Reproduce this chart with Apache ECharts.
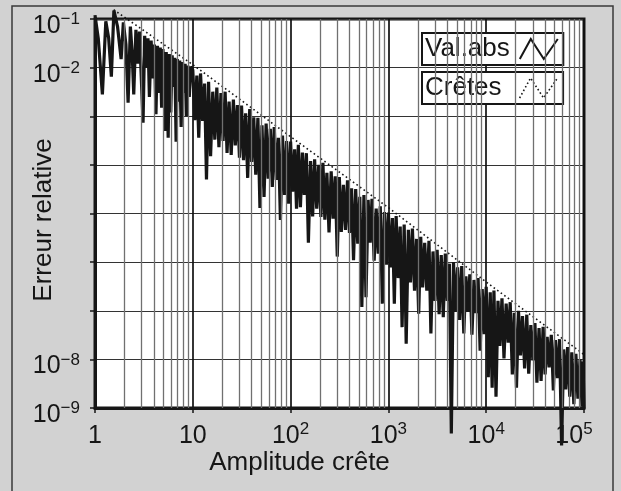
<!DOCTYPE html>
<html><head><meta charset="utf-8">
<script src="https://cdn.jsdelivr.net/npm/echarts@6/dist/echarts.min.js"></script>
<style>html,body{margin:0;padding:0;background:#d2d2d2;}#c{width:621px;height:491px;}</style>
</head><body><div id="c"></div>
<script>
// ---- axis ticks ----
const xDecades = [1, 10, 100, 1000, 10000, 100000];
const xTickLabels = ['1', '10', '10^2', '10^3', '10^4', '10^5'];
const yDecades = [1e-9, 1e-8, 1e-7, 1e-6, 1e-5, 1e-4, 1e-3, 1e-2, 1e-1];
const yTickLabels = ['10^-9', '10^-8', '', '', '', '', '', '10^-2', '10^-1'];
const xMinorLines = [2,3,4,5,6,7,8,9,20,30,40,50,60,70,80,90,200,300,400,500,600,700,800,900,
  2000,3000,4000,5000,6000,7000,8000,9000,20000,30000,40000,50000,60000,70000,80000,90000];

// ---- series "Val.abs" (by decade) ----
const valAbs1 = [[1.00,0.12],[1.08,0.04],[1.19,2.8e-3],[1.29,0.09],[1.38,0.04],[1.47,6.5e-3],[1.56,0.15],[1.70,0.07],[1.85,0.015],[1.95,0.085],[2.07,0.03],[2.18,1.9e-3],[2.30,0.07],[2.40,0.02],[2.49,2.8e-3],[2.62,0.06],[2.75,0.012],[2.85,0.055],[3.00,4e-3],[3.10,7.4e-4],[3.22,0.045],[3.35,0.01],[3.48,0.04],[3.60,2.5e-3],[3.75,0.036],[3.90,6e-3],[4.05,0.03],[4.20,1.1e-3],[4.35,0.028],[4.50,3e-3],[4.65,0.026],[4.80,1.5e-3],[4.95,0.024],[5.10,8e-3],[5.20,5e-4],[5.35,0.021],[5.50,2e-3],[5.60,3.6e-4],[5.75,0.019],[5.95,1.2e-3],[6.15,0.018],[6.35,4e-3],[6.55,0.016],[6.75,3e-4],[6.95,0.015],[7.15,2e-3],[7.35,0.014],[7.60,6e-4],[7.85,0.013],[8.10,3e-3],[8.35,0.012],[8.60,1e-3],[8.90,0.011],[9.20,2.5e-3],[9.55,0.0105]];
const valAbs10 = [[10,8.9e-3],[10.5,8.3e-4],[11,6.9e-3],[11.5,3.6e-4],[12,7.6e-3],[12.6,8e-4],[13.2,4.7e-3],[13.8,5e-5],[14.5,5.1e-3],[15.2,1.5e-4],[16,3.2e-3],[16.8,3.3e-4],[17.6,3.9e-3],[18.5,2.3e-4],[19.4,3.0e-3],[20.4,3.1e-4],[21.4,3.2e-3],[22.4,1.75e-4],[23.5,2.0e-3],[24.7,1.6e-4],[26,2.2e-3],[27.2,2.5e-4],[28.6,1.7e-3],[30,1.4e-4],[31.5,1.66e-3],[33,1.25e-4],[34.7,1.15e-3],[36.4,5.4e-5],[38.2,1.4e-3],[40,1.15e-4],[42,9.5e-4],[44,6.3e-5],[46.3,9.3e-4],[48.6,1.3e-5],[51,6.5e-4],[53.5,2.2e-5],[56.2,7.1e-4],[59,5.2e-5],[62,5.5e-4],[65,3.5e-5],[68,6.0e-4],[71.5,4.9e-5],[75,3.6e-4],[78.7,7.4e-6],[82.6,4.0e-4],[86.7,2.4e-5],[91,3.1e-4],[95.5,1.6e-5]];
const valAbs100 = [[100,3.0e-4],[105,2.8e-5],[110,2.1e-4],[115,1.25e-5],[120,2.6e-4],[126,1.35e-5],[132,1.8e-4],[138,2.4e-5],[145,1.74e-4],[152,2.5e-6],[160,1.2e-4],[168,8.7e-6],[176,1.3e-4],[185,1.25e-5],[194,1.0e-4],[204,8.5e-6],[214,1.1e-4],[224,7.5e-6],[235,6.9e-5],[247,4.1e-6],[260,7.4e-5],[272,7.8e-6],[286,5.8e-5],[300,1.3e-6],[315,5.6e-5],[330,4.2e-6],[347,3.9e-5],[364,4.6e-6],[382,4.8e-5],[400,4.0e-6],[420,3.3e-5],[440,1.1e-6],[463,3.2e-5],[486,2.4e-6],[510,2.2e-5],[535,1.2e-7],[562,2.4e-5],[590,1.9e-7],[620,1.9e-5],[650,2.5e-6],[680,2.0e-5],[715,1.07e-6],[750,1.26e-5],[787,1.5e-6],[826,1.4e-5],[867,1.4e-7],[910,1.07e-5],[955,8.9e-7]];
const valAbs1000 = [[1000,1.05e-5],[1050,7.8e-7],[1100,8.1e-6],[1150,1.4e-7],[1200,8.9e-6],[1260,4.7e-7],[1320,5.4e-6],[1380,4.6e-8],[1450,5.9e-6],[1520,2.1e-8],[1600,4.6e-6],[1680,3.8e-7],[1760,4.9e-6],[1850,2.6e-7],[1940,3.0e-6],[2040,8.7e-8],[2140,3.3e-6],[2240,3.0e-7],[2350,2.5e-6],[2470,2.6e-7],[2600,2.75e-6],[2720,3.4e-8],[2860,1.66e-6],[3000,1.6e-7],[3150,1.8e-6],[3300,8.5e-8],[3470,1.4e-6],[3640,7.4e-8],[3820,1.5e-6],[4000,1.6e-7],[4200,9.3e-7],[4400,3.0e-10],[4630,1.0e-6],[4860,9.5e-8],[5100,7.8e-7],[5350,6.5e-8],[5620,8.3e-7],[5900,3.4e-8],[6200,5.1e-7],[6500,9.5e-8],[6800,5.6e-7],[7150,3.2e-8],[7500,4.3e-7],[7870,8.9e-8],[8260,4.7e-7],[8670,1.5e-8],[9100,2.8e-7],[9550,3.3e-8]];
const valAbs10000 = [[10000,3.1e-7],[10500,4.3e-9],[11000,2.4e-7],[11500,2.6e-9],[12000,2.6e-7],[12600,1.7e-9],[13200,1.6e-7],[13800,1.9e-8],[14500,1.8e-7],[15200,1.05e-8],[16000,1.4e-7],[16800,2.2e-8],[17600,1.5e-7],[18500,4.9e-9],[19400,9.1e-8],[20400,2.6e-9],[21400,1.0e-7],[22400,1.2e-8],[23500,7.8e-8],[24700,6.5e-9],[26000,8.3e-8],[27200,5.1e-9],[28600,5.1e-8],[30000,9.5e-9],[31500,5.6e-8],[33000,3.3e-9],[34700,4.4e-8],[36400,3.6e-9],[38200,4.7e-8],[40000,4.9e-9],[42000,2.9e-8],[44000,6.8e-9],[46300,3.2e-8],[48600,2.3e-9],[51000,2.5e-8],[53500,4.1e-9],[56200,2.6e-8],[59000,1.7e-10],[62000,1.6e-8],[65000,2.4e-9],[68000,1.8e-8],[71500,1.7e-9],[75000,1.4e-8],[78700,1.2e-9],[82600,1.3e-8],[86700,1.55e-9],[91000,1.0e-8],[95500,1.07e-9],[97700,9.0e-9],[100000,1.0e-9]];

// ---- series "Crêtes" (peak envelope) ----
const cretes = [[1.55,0.155],[3,0.062],[10,0.0115],[100,3.8e-4],[1000,1.32e-5],[10000,3.9e-7],[100000,1.26e-8]];

const valAbs = [].concat(valAbs1, valAbs10, valAbs100, valAbs1000, valAbs10000);

const FONT = '"Liberation Sans", Arial, Helvetica, sans-serif';
const INK = '#161616';
function sup(label) {
  const p = label.split('^');
  return p.length > 1 ? '{b|' + p[0] + '}{s|' + p[1].replace('-', '\u2212') + '}' : '{b|' + p[0] + '}';
}
function tickText(value, decades, labels) {
  const e = Math.round(Math.log10(value));
  const i = decades.findIndex(d => Math.round(Math.log10(d)) === e);
  if (i < 0 || !labels[i]) return '';
  // last x label is kept inside the frame (as in the original)
  return sup(labels[i]) + (decades === xDecades && i === decades.length - 1 ? '{e|}' : '');
}
const rich = {
  b: { fontSize: 25, fontFamily: FONT, color: INK, lineHeight: 30 },
  s: { fontSize: 17, fontFamily: FONT, color: INK, lineHeight: 30, verticalAlign: 'top', padding: [0, 0, 12, 0] },
  e: { width: 20, fontSize: 17, lineHeight: 30 }
};
function legendText(padRight) {
  return { fontSize: 26, fontFamily: FONT, color: INK, padding: [0, padRight, 0, 0] };
}

const chart = echarts.init(document.getElementById('c'), null, { renderer: 'canvas' });
chart.setOption({
  animation: false,
  backgroundColor: '#d2d2d2',
  grid: { left: 95, top: 19, width: 489, height: 389, show: true, backgroundColor: '#ffffff',
          borderColor: INK, borderWidth: 3, containLabel: false, outerBoundsMode: 'none' },
  xAxis: {
    type: 'log', logBase: 10, min: 1, max: 100000, splitNumber: 5,
    name: 'Amplitude crête', nameLocation: 'middle', nameGap: 42, nameMoveOverlap: false,
    nameTextStyle: { fontSize: 26, fontFamily: FONT, color: INK, padding: [0, 80, 0, 0] },
    axisLine: { show: true, onZero: false, lineStyle: { color: INK, width: 3 } },
    axisTick: { show: true, length: 5, inside: false, lineStyle: { color: INK, width: 1.5 } },
    axisLabel: { margin: 13, formatter: v => tickText(v, xDecades, xTickLabels), rich: rich },
    splitLine: { show: true, lineStyle: { color: '#111', width: 1.7 } },
    minorTick: { show: false }, minorSplitLine: { show: false }
  },
  yAxis: {
    type: 'log', logBase: 10, min: 1e-9, max: 1e-1, splitNumber: 8,
    name: 'Erreur relative', nameLocation: 'middle', nameGap: 38, nameRotate: 90, nameMoveOverlap: false,
    nameTextStyle: { fontSize: 26, fontFamily: FONT, color: INK, padding: [0, 13, 0, 0] },
    axisLine: { show: true, onZero: false, lineStyle: { color: INK, width: 3 } },
    axisTick: { show: true, length: 5, inside: false, lineStyle: { color: INK, width: 1.5 } },
    axisLabel: { margin: 15, padding: [14, 0, 0, 0], formatter: v => tickText(v, yDecades, yTickLabels), rich: rich },
    splitLine: { show: true, lineStyle: { color: '#333', width: 1.2 } },
    minorTick: { show: false }, minorSplitLine: { show: false }
  },
  legend: [
    { data: [{ name: 'Val.abs', icon: 'path://M0,20L11,0L24,20L38,0',
               itemStyle: { color: 'none', borderColor: INK, borderWidth: 2 } }],
      left: 422, top: 33, orient: 'horizontal', align: 'right', selectedMode: false,
      backgroundColor: '#fff', borderColor: INK, borderWidth: 2, borderRadius: 0,
      padding: [3, 3, 3, 3], itemWidth: 38, itemHeight: 22, itemGap: 0,
      textStyle: legendText(5) },
    { data: [{ name: 'Crêtes', icon: 'path://M0,20L11,0L24,20L38,0',
               itemStyle: { color: 'none', borderColor: INK, borderWidth: 1.6, borderType: [1.6, 2.4] } }],
      left: 422, top: 72, orient: 'horizontal', align: 'right', selectedMode: false,
      backgroundColor: '#fff', borderColor: INK, borderWidth: 2, borderRadius: 0,
      padding: [3, 3, 3, 3], itemWidth: 38, itemHeight: 22, itemGap: 0,
      textStyle: legendText(13) }
  ],
  graphic: [
    { type: 'rect', shape: { x: 12, y: 6, width: 601, height: 492 },
      style: { fill: 'none', stroke: '#3a3a3a', lineWidth: 1.5 }, silent: true, z: 100 }
  ],
  series: [
    { name: 'minor', type: 'line', data: [], z: 1, silent: true,
      markLine: { silent: true, symbol: ['none', 'none'], label: { show: false }, animation: false,
                  lineStyle: { color: '#707070', width: 1.3, type: 'solid' },
                  data: xMinorLines.map(v => ({ xAxis: v })) } },
    { name: 'Val.abs', type: 'line', data: valAbs, showSymbol: false, symbol: 'none', clip: false, z: 3,
      lineStyle: { color: INK, width: 3.2 }, itemStyle: { color: INK } },
    { name: 'Crêtes', type: 'line', data: cretes, showSymbol: false, symbol: 'none', clip: false, z: 4,
      lineStyle: { color: INK, width: 1.6, type: [1.6, 2.8] }, itemStyle: { color: INK } }
  ]
});
</script></body></html>
